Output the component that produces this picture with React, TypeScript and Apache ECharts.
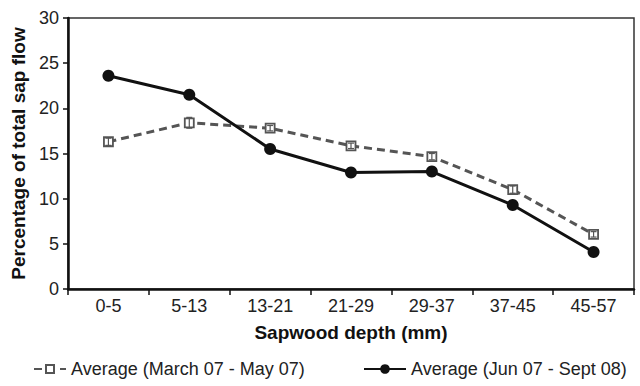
import React, { useEffect, useRef } from "react";
import * as echarts from "echarts";

const categories = ["0-5", "5-13", "13-21", "21-29", "29-37", "37-45", "45-57"];
const springAvg = [16.3, 18.4, 17.8, 15.85, 14.65, 11.0, 6.05];
const springErr = [0.4, 0.6, 0.3, 0.3, 0.35, 0.4, 0.3];
const summerAvg = [23.6, 21.5, 15.5, 12.9, 13.0, 9.3, 4.1];
const summerErr = [0.3, 0.3, 0.25, 0.2, 0.2, 0.25, 0.2];
const yTicks = [0, 5, 10, 15, 20, 25, 30];

const springName = "Average (March 07 - May 07)";
const summerName = "Average (Jun 07 - Sept 08)";

const FONT = "'Liberation Sans', Arial, sans-serif";

function errorSeries(name: string, vals: number[], errs: number[], color: string, z: number) {
  return {
    type: "custom",
    name: name + " err",
    z,
    silent: true,
    data: vals.map((v, i) => [i, v - errs[i], v + errs[i]]),
    renderItem: (params: any, api: any) => {
      const x = api.value(0);
      const lo = api.coord([x, api.value(1)]);
      const hi = api.coord([x, api.value(2)]);
      const w = 3;
      const style = { stroke: color, lineWidth: 1.2 };
      return {
        type: "group",
        children: [
          { type: "line", shape: { x1: lo[0], y1: lo[1], x2: hi[0], y2: hi[1] }, style },
          { type: "line", shape: { x1: lo[0] - w, y1: lo[1], x2: lo[0] + w, y2: lo[1] }, style },
          { type: "line", shape: { x1: hi[0] - w, y1: hi[1], x2: hi[0] + w, y2: hi[1] }, style },
        ],
      };
    },
  };
}

export default function App() {
  const ref = useRef<HTMLDivElement>(null);
  useEffect(() => {
    document.body.style.margin = "0";
    const chart = echarts.init(ref.current!, null, { renderer: "svg" });
    chart.setOption({
      animation: false,
      backgroundColor: "#ffffff",
      textStyle: { fontFamily: FONT },
      grid: {
        left: 68,
        top: 18,
        right: 6,
        bottom: 97,
        show: true,
        borderColor: "#333",
        borderWidth: 1.5,
      },
      legend: [
        {
          data: [springName],
          left: 28,
          top: 355,
          itemWidth: 32,
          itemHeight: 10,
          itemGap: 4,
          textStyle: { fontSize: 18, color: "#222", fontFamily: FONT },
        },
        {
          data: [summerName],
          left: 358,
          top: 355,
          itemWidth: 42,
          itemHeight: 12,
          textStyle: { fontSize: 18, color: "#222", fontFamily: FONT },
        },
      ],
      xAxis: {
        type: "category",
        data: categories,
        boundaryGap: true,
        name: "Sapwood depth (mm)",
        nameLocation: "middle",
        nameGap: 34,
        nameTextStyle: { fontSize: 19, fontWeight: "bold", color: "#111", fontFamily: FONT },
        axisLine: { lineStyle: { color: "#111", width: 2.5 } },
        axisTick: { show: true, length: 6, alignWithLabel: false, lineStyle: { color: "#111", width: 1.5 } },
        axisLabel: { fontSize: 18, color: "#222", margin: 8, fontFamily: FONT },
        splitLine: { show: false },
      },
      yAxis: {
        type: "value",
        min: 0,
        max: 30,
        interval: 5,
        name: "Percentage of total sap flow",
        nameLocation: "middle",
        nameGap: 37,
        nameTextStyle: { fontSize: 19, fontWeight: "bold", color: "#111", fontFamily: FONT },
        axisLine: { show: true, lineStyle: { color: "#111", width: 2.5 } },
        axisTick: { show: true, length: 5, lineStyle: { color: "#111", width: 1.5 } },
        axisLabel: {
          fontSize: 18,
          color: "#222",
          margin: 9,
          fontFamily: FONT,
          formatter: (v: number) => (yTicks.includes(v) ? String(v) : ""),
        },
        splitLine: { show: false },
      },
      series: [
        {
          type: "line",
          name: springName,
          data: springAvg,
          z: 2,
          symbol: "rect",
          symbolSize: 9,
          lineStyle: { color: "#555", width: 3, type: [8, 5] },
          itemStyle: { color: "#ffffff", borderColor: "#555", borderWidth: 1.8 },
        },
        {
          type: "line",
          name: summerName,
          data: summerAvg,
          z: 3,
          symbol: "circle",
          symbolSize: 12,
          lineStyle: { color: "#111", width: 3 },
          itemStyle: { color: "#111", borderColor: "#111", borderWidth: 0 },
        },
        errorSeries(springName, springAvg, springErr, "#555", 4),
        errorSeries(summerName, summerAvg, summerErr, "#111", 1),
      ],
    });
    return () => chart.dispose();
  }, []);
  return <div ref={ref} style={{ width: 640, height: 386 }} />;
}
